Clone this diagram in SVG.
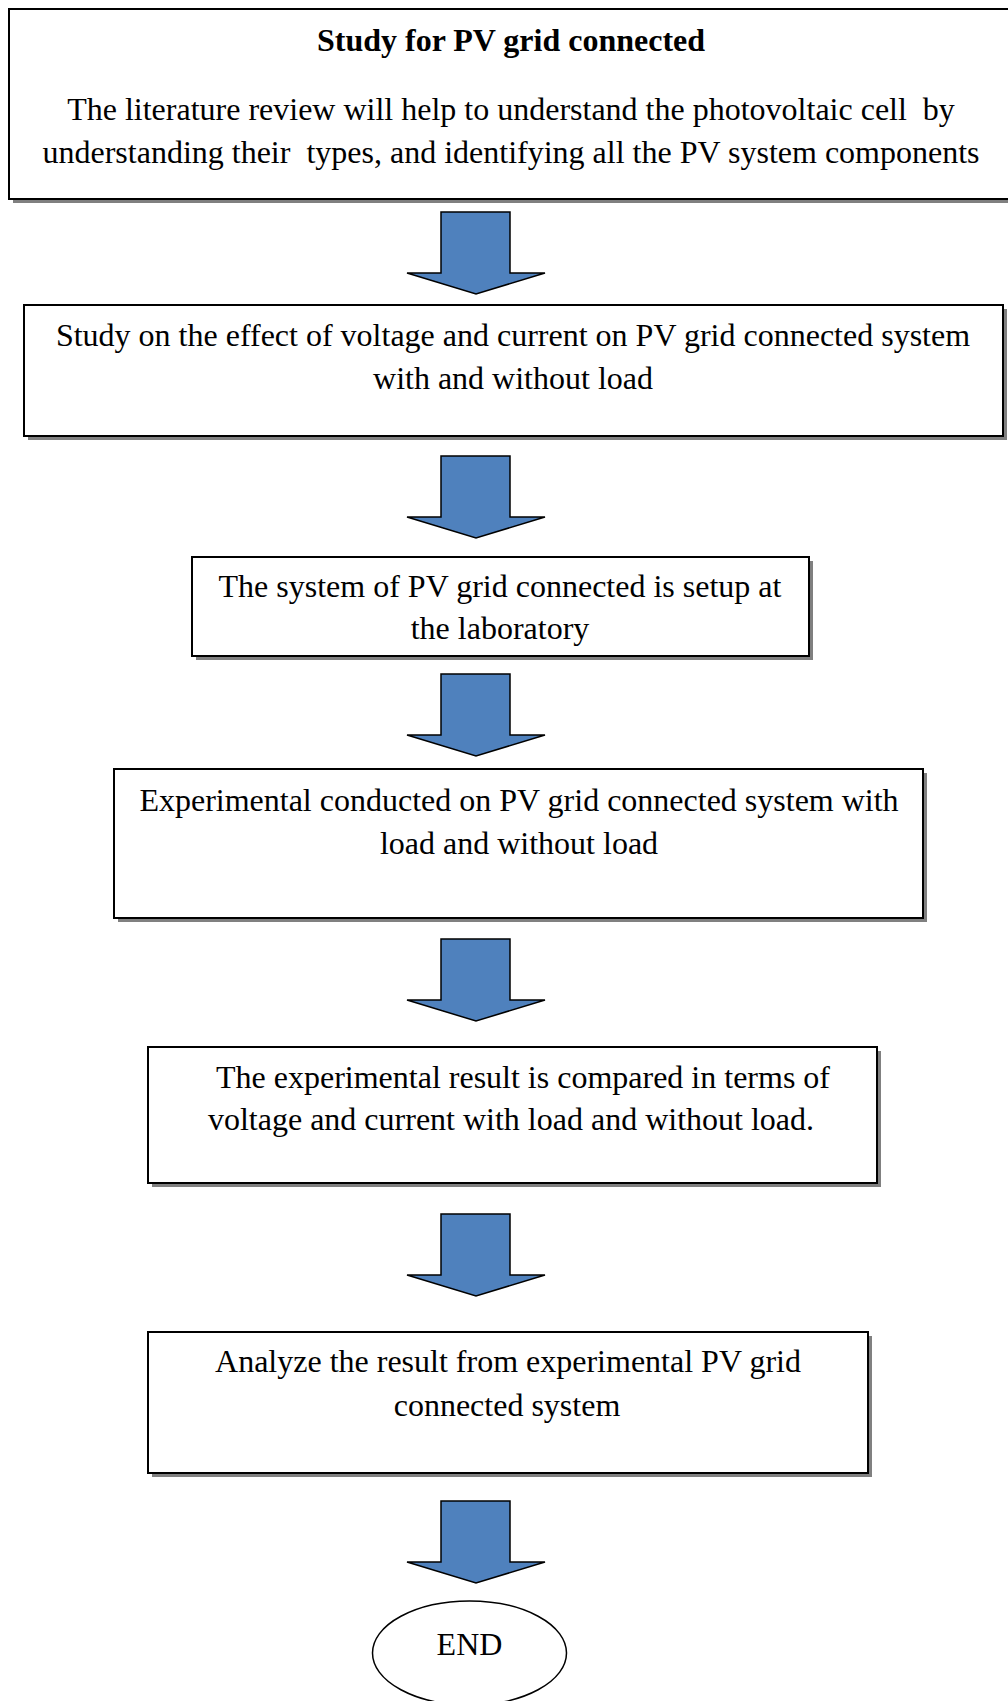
<svg xmlns="http://www.w3.org/2000/svg" width="1008" height="1701" viewBox="0 0 1008 1701">
<style>
.box{fill:#fff;stroke:#000;stroke-width:2}
.sh{fill:#808080}
.t{font-family:"Liberation Serif","Times New Roman",serif;font-size:32px;fill:#000;text-anchor:middle}
.b{font-weight:bold}
.arr{fill:#4F81BD;stroke:#000;stroke-width:1.5;stroke-linejoin:miter}
</style>
<defs>
<path id="arrow" d="M441,0 H510 V61 H545 L476,82 L407,61 H441 Z"/>
</defs>
<rect width="1008" height="1701" fill="#fff"/>
<g id="n1">
<rect class="sh" x="13" y="13" width="1003" height="190"/>
<rect class="box" x="9" y="9" width="1003" height="190"/>
<text class="t b" x="511" y="51">Study for PV grid connected</text>
<text class="t" x="511" y="120" xml:space="preserve">The literature review will help to understand the photovoltaic cell  by</text>
<text class="t" x="511" y="163" xml:space="preserve">understanding their  types, and identifying all the PV system components</text>
</g>
<g id="n2">
<rect class="sh" x="28" y="309" width="979" height="131"/>
<rect class="box" x="24" y="305" width="979" height="131"/>
<text class="t" x="513" y="346">Study on the effect of voltage and current on PV grid connected system</text>
<text class="t" x="513" y="389">with and without load</text>
</g>
<g id="n3">
<rect class="sh" x="196" y="561" width="617" height="99"/>
<rect class="box" x="192" y="557" width="617" height="99"/>
<text class="t" x="500" y="597">The system of PV grid connected is setup at</text>
<text class="t" x="500" y="639">the laboratory</text>
</g>
<g id="n4">
<rect class="sh" x="118" y="773" width="809" height="149"/>
<rect class="box" x="114" y="769" width="809" height="149"/>
<text class="t" x="519" y="811">Experimental conducted on PV grid connected system with</text>
<text class="t" x="519" y="854">load and without load</text>
</g>
<g id="n5">
<rect class="sh" x="152" y="1051" width="729" height="136"/>
<rect class="box" x="148" y="1047" width="729" height="136"/>
<text class="t" x="523" y="1088">The experimental result is compared in terms of</text>
<text class="t" x="511" y="1130">voltage and current with load and without load.</text>
</g>
<g id="n6">
<rect class="sh" x="152" y="1336" width="720" height="141"/>
<rect class="box" x="148" y="1332" width="720" height="141"/>
<text class="t" x="508" y="1372">Analyze the result from experimental PV grid</text>
<text class="t" x="507" y="1416">connected system</text>
</g>
<g id="end">
<ellipse cx="469.5" cy="1653" rx="97" ry="52" fill="#fff" stroke="#000" stroke-width="1.5"/>
<text class="t" x="469.5" y="1655">END</text>
</g>
<g id="connectors">
<use href="#arrow" class="arr" y="212"/>
<use href="#arrow" class="arr" y="456"/>
<use href="#arrow" class="arr" y="674"/>
<use href="#arrow" class="arr" y="939"/>
<use href="#arrow" class="arr" y="1214"/>
<use href="#arrow" class="arr" y="1501"/>
</g>
</svg>
